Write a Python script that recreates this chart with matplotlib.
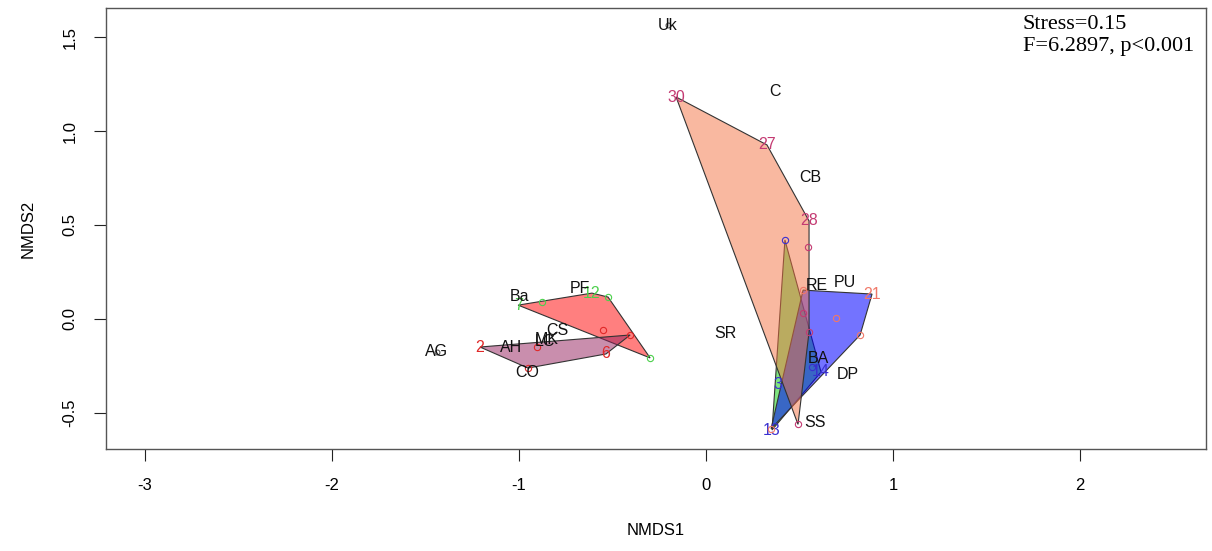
import matplotlib
matplotlib.use("Agg")
import matplotlib.pyplot as plt
from matplotlib.patches import Polygon
import numpy as np

# ---------------- data ----------------
species_names = ["Uk", "C", "CB", "RE", "PU", "SR", "BA", "DP", "SS",
                 "Ba", "PF", "CS", "MK", "LC", "AH", "CO", "AG"]
species_x = [-0.203, 0.369, 0.556, 0.594, 0.743, 0.102, 0.599, 0.759, 0.583,
             -0.995, -0.674, -0.797, -0.850, -0.861, -1.043, -0.957, -1.439]
species_y = [1.564, 1.208, 0.755, 0.175, 0.191, -0.076, -0.209, -0.294, -0.550,
             0.121, 0.159, -0.060, -0.108, -0.123, -0.155, -0.288, -0.176]

# group A (red hull, green points)
gA_x = [-1.005, -0.877, -0.610, -0.524, -0.299]
gA_y = [0.073, 0.089, 0.137, 0.116, -0.208]
gA_lab = ["7", "", "12", "", ""]
# group B (mauve hull, red points)
gB_x = [-1.209, -0.406, -0.535, -0.952, -0.904]
gB_y = [-0.150, -0.086, -0.187, -0.262, -0.150]
gB_lab = ["2", "", "6", "", ""]
# group C (salmon hull, crimson points)
gC_x = [-0.160, 0.326, 0.551, 0.551, 0.492, 0.545, 0.519]
gC_y = [1.181, 0.926, 0.521, -0.070, -0.562, 0.382, 0.031]
gC_lab = ["30", "27", "28", "", "", "", ""]
# group D (blue hull, coral points)
gD_x = [0.519, 0.888, 0.824, 0.348, 0.695]
gD_y = [0.153, 0.132, -0.086, -0.585, 0.004]
gD_lab = ["", "21", "", "", ""]
# group E (green hull, blue points)
gE_x = [0.422, 0.615, 0.353, 0.385, 0.567]
gE_y = [0.420, -0.283, -0.592, -0.352, -0.256]
gE_lab = ["", "14", "13", "3", ""]
# extra single points
extra_x = [-0.551, -1.439, -0.203]
extra_y = [-0.060, -0.176, 1.564]

stress_text = "Stress=0.15"
stat_text = "F=6.2897, p<0.001"

xticks = [-3, -2, -1, 0, 1, 2]
yticks = [-0.5, 0.0, 0.5, 1.0, 1.5]


def hull(xs, ys):
    pts = sorted(set(zip(xs, ys)))
    if len(pts) < 3:
        return pts

    def cross(o, a, b):
        return (a[0] - o[0]) * (b[1] - o[1]) - (a[1] - o[1]) * (b[0] - o[0])
    lower, upper = [], []
    for p in pts:
        while len(lower) >= 2 and cross(lower[-2], lower[-1], p) <= 0:
            lower.pop()
        lower.append(p)
    for p in reversed(pts):
        while len(upper) >= 2 and cross(upper[-2], upper[-1], p) <= 0:
            upper.pop()
        upper.append(p)
    return lower[:-1] + upper[:-1]


W, H = 1212, 551
fig = plt.figure(figsize=(W / 100, H / 100), dpi=100)
ax = fig.add_axes([106 / W, 1 - 449 / H, 1100 / W, 441 / H])
ax.set_xlim(-3.209, 2.674)
ax.set_ylim(-0.693, 1.655)

sans = "Liberation Sans"

groups = [
    # (x, y, labels, fill, alpha, point colour) in drawing order
    (gE_x, gE_y, gE_lab, (0.0, 0.80, 0.0), 0.5, "#3a30d0"),
    (gD_x, gD_y, gD_lab, (0.0, 0.0, 1.0), 0.55, "#f07868"),
    (gC_x, gC_y, gC_lab, (0.96, 0.45, 0.26), 0.5, "#c43a72"),
    (gA_x, gA_y, gA_lab, (1.0, 0.0, 0.0), 0.5, "#4cd04c"),
    (gB_x, gB_y, gB_lab, (0.58, 0.12, 0.36), 0.5, "#e02828"),
]

z = 2
for gx, gy, glab, fill, alpha, pc in groups:
    h = hull(gx, gy)
    ax.add_patch(Polygon(h, closed=True, facecolor=fill + (alpha,),
                         edgecolor="#333333", linewidth=0.8, zorder=z))
    z += 1

for gx, gy, glab, fill, alpha, pc in groups:
    for x, y, lab in zip(gx, gy, glab):
        if lab:
            ax.text(x, y, lab, color=pc, fontsize=11.5, family=sans,
                    ha="center", va="center", zorder=10)
        else:
            ax.plot(x, y, "o", ms=4.5, mfc="none", mec=pc, mew=0.8,
                    zorder=11)

ax.plot(extra_x[0], extra_y[0], "o", ms=4.5, mfc="none", mec="#e02828",
        mew=0.8, zorder=11)
for x, y in zip(extra_x[1:], extra_y[1:]):
    ax.plot(x, y, "o", ms=3.5, mfc="none", mec="#555555", mew=0.8, zorder=11)

for name, x, y in zip(species_names, species_x, species_y):
    ax.text(x, y, name, color="#111111", fontsize=11.5, family=sans,
            ha="center", va="center", zorder=12)

ax.text(0.8336, 0.9615, stress_text, transform=ax.transAxes,
        family="Liberation Serif", fontsize=16, ha="left", va="center")
ax.text(0.8336, 0.9116, stat_text, transform=ax.transAxes,
        family="Liberation Serif", fontsize=16, ha="left", va="center")

ax.set_xticks(xticks)
ax.set_xticklabels([f"{t:g}" for t in xticks], family=sans, fontsize=12)
ax.set_yticks(yticks)
ax.set_yticklabels([f"{t:.1f}" for t in yticks], family=sans, fontsize=12,
                   rotation=90, va="center")
ax.tick_params(direction="out", length=8.6, width=0.8, color="#222222",
               pad=12)
for s in ax.spines.values():
    s.set_color("#555555")
    s.set_linewidth(1.0)

ax.set_xlabel("NMDS1", family=sans, fontsize=12, labelpad=22)
ax.set_ylabel("NMDS2", family=sans, fontsize=12, labelpad=19)

fig.savefig("out.png", dpi=100)
